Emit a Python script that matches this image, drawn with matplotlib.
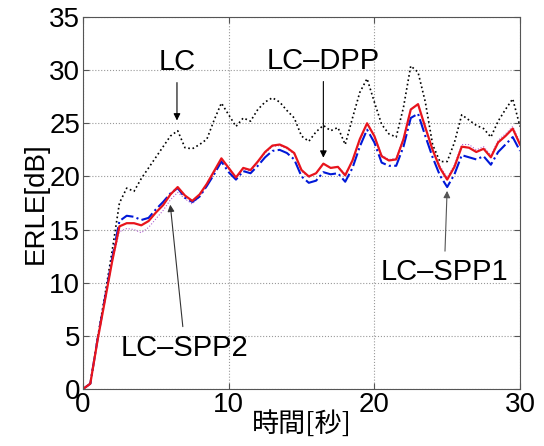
import matplotlib
matplotlib.use('Agg')
import matplotlib.pyplot as plt
import numpy as np

plt.rcParams['font.family'] = ['Liberation Sans', 'DejaVu Sans']

# ---- data (ERLE [dB] vs time [s]) ----
t = np.arange(0, 30.01, 0.5)

lc = [0.0, 0.5, 4.8, 8.8, 13.0, 17.5, 18.9, 18.6, 19.8, 20.8,
      21.8, 22.8, 23.8, 24.3, 22.7, 22.6, 23.0, 23.5, 25.3, 26.9,
      25.8, 24.7, 25.5, 25.2, 26.3, 27.0, 27.4, 27.0, 26.2, 25.5,
      23.8, 23.3, 24.2, 24.8, 24.3, 24.6, 23.0, 25.5, 27.9, 29.2,
      27.0, 24.9, 24.0, 23.7, 26.5, 30.4, 29.8, 27.0, 23.0, 21.4,
      21.4, 23.2, 25.8, 25.3, 24.8, 24.5, 23.7, 25.2, 26.3, 27.3,
      24.7]

lc_dpp = [0.0, 0.5, 4.6, 8.3, 12.0, 15.3, 15.6, 15.6, 15.4, 15.8,
          16.6, 17.3, 18.3, 19.0, 18.2, 17.7, 18.3, 19.3, 20.5, 21.7,
          20.8, 19.9, 20.8, 20.6, 21.4, 22.3, 22.9, 23.0, 22.7, 22.2,
          20.6, 20.0, 20.3, 21.2, 20.8, 20.9, 20.1, 21.5, 23.5, 25.0,
          23.8, 21.9, 21.5, 21.6, 23.5, 26.3, 26.8, 24.6, 22.5, 20.8,
          19.7, 20.9, 22.8, 22.7, 22.3, 22.6, 21.8, 23.2, 23.8, 24.5,
          23.0]

lc_spp1 = [0.0, 0.5, 4.7, 8.5, 12.3, 15.8, 16.3, 16.2, 15.9, 16.1,
           16.9, 17.6, 18.4, 18.9, 18.0, 17.6, 18.1, 19.1, 20.2, 21.4,
           20.4, 19.7, 20.5, 20.3, 21.0, 21.8, 22.4, 22.5, 22.2, 21.6,
           20.0, 19.4, 19.6, 20.4, 20.2, 20.3, 19.5, 20.8, 22.8, 24.4,
           23.2, 21.3, 21.0, 21.0, 22.8, 25.5, 25.9, 23.8, 21.8, 20.1,
           19.0, 20.2, 22.0, 21.8, 21.6, 21.9, 21.1, 22.3, 23.0, 23.7,
           22.4]

lc_spp2 = [0.0, 0.5, 4.6, 8.3, 12.0, 14.8, 15.1, 15.0, 14.7, 15.2,
           16.0, 16.8, 17.8, 18.5, 17.9, 17.4, 18.1, 19.1, 20.3, 21.5,
           20.7, 19.8, 20.7, 20.5, 21.3, 22.2, 22.8, 22.9, 22.6, 22.1,
           20.5, 19.9, 20.3, 21.2, 20.8, 20.9, 20.2, 21.5, 23.4, 24.9,
           23.8, 22.0, 21.6, 21.7, 23.6, 26.3, 26.8, 24.7, 22.6, 21.0,
           19.9, 21.1, 23.0, 23.0, 22.5, 22.8, 22.0, 23.4, 24.0, 24.7,
           23.2]

xticks = [0, 10, 20, 30]
yticks = [0, 5, 10, 15, 20, 25, 30, 35]

# ---- figure ----
fig = plt.figure(figsize=(5.44, 4.46), dpi=100)
ax = fig.add_axes([0.1526, 0.1278, 0.8033, 0.8341])

ax.plot(t, lc, color='black', linestyle=':', linewidth=1.2)
ax.plot(t, lc_spp2, color='#b060d0', linestyle=':', linewidth=0.8)
ax.plot(t, lc_spp1, color='#0018d8', linestyle='-.', linewidth=1.5)
ax.plot(t, lc_dpp, color='#e8141c', linestyle='-', linewidth=1.6)

ax.set_xlim(0, 30)
ax.set_ylim(0, 35)
ax.set_xticks(xticks)
ax.set_yticks(yticks)
ax.tick_params(direction='in', top=True, right=True, labelsize=20, length=4,
               color='#555555', pad=2)
ax.grid(True, linestyle=':', color='#999999', linewidth=0.8)
for s in ax.spines.values():
    s.set_color('#555555')

ax.set_ylabel('ERLE[dB]', fontsize=20, labelpad=0)
ax.set_xlabel('時間[秒]', fontsize=19.5, family=['Noto Sans CJK JP', 'DejaVu Sans'],
              labelpad=-5)

# ---- annotations ----
ap = dict(arrowstyle='-|>', color='black', lw=0.8, mutation_scale=10, shrinkA=3)
ax.annotate('LC', xy=(6.45, 25.0), xytext=(6.45, 30.8), fontsize=21,
            ha='center', va='center', arrowprops=ap)
ax.annotate('LC\u2013DPP', xy=(16.5, 21.5), xytext=(16.5, 30.9), fontsize=21,
            ha='center', va='center', arrowprops=ap)
ax.annotate('LC\u2013SPP1', xy=(25.0, 18.9), xytext=(24.8, 11.0), fontsize=21,
            ha='center', va='center', arrowprops=dict(ap, color='#555555'))
ax.annotate('LC\u2013SPP2', xy=(5.97, 17.6), xytext=(7.0, 3.9), fontsize=21,
            ha='center', va='center', arrowprops=dict(ap, color='#333333'))

fig.savefig('out.png', dpi=100)
